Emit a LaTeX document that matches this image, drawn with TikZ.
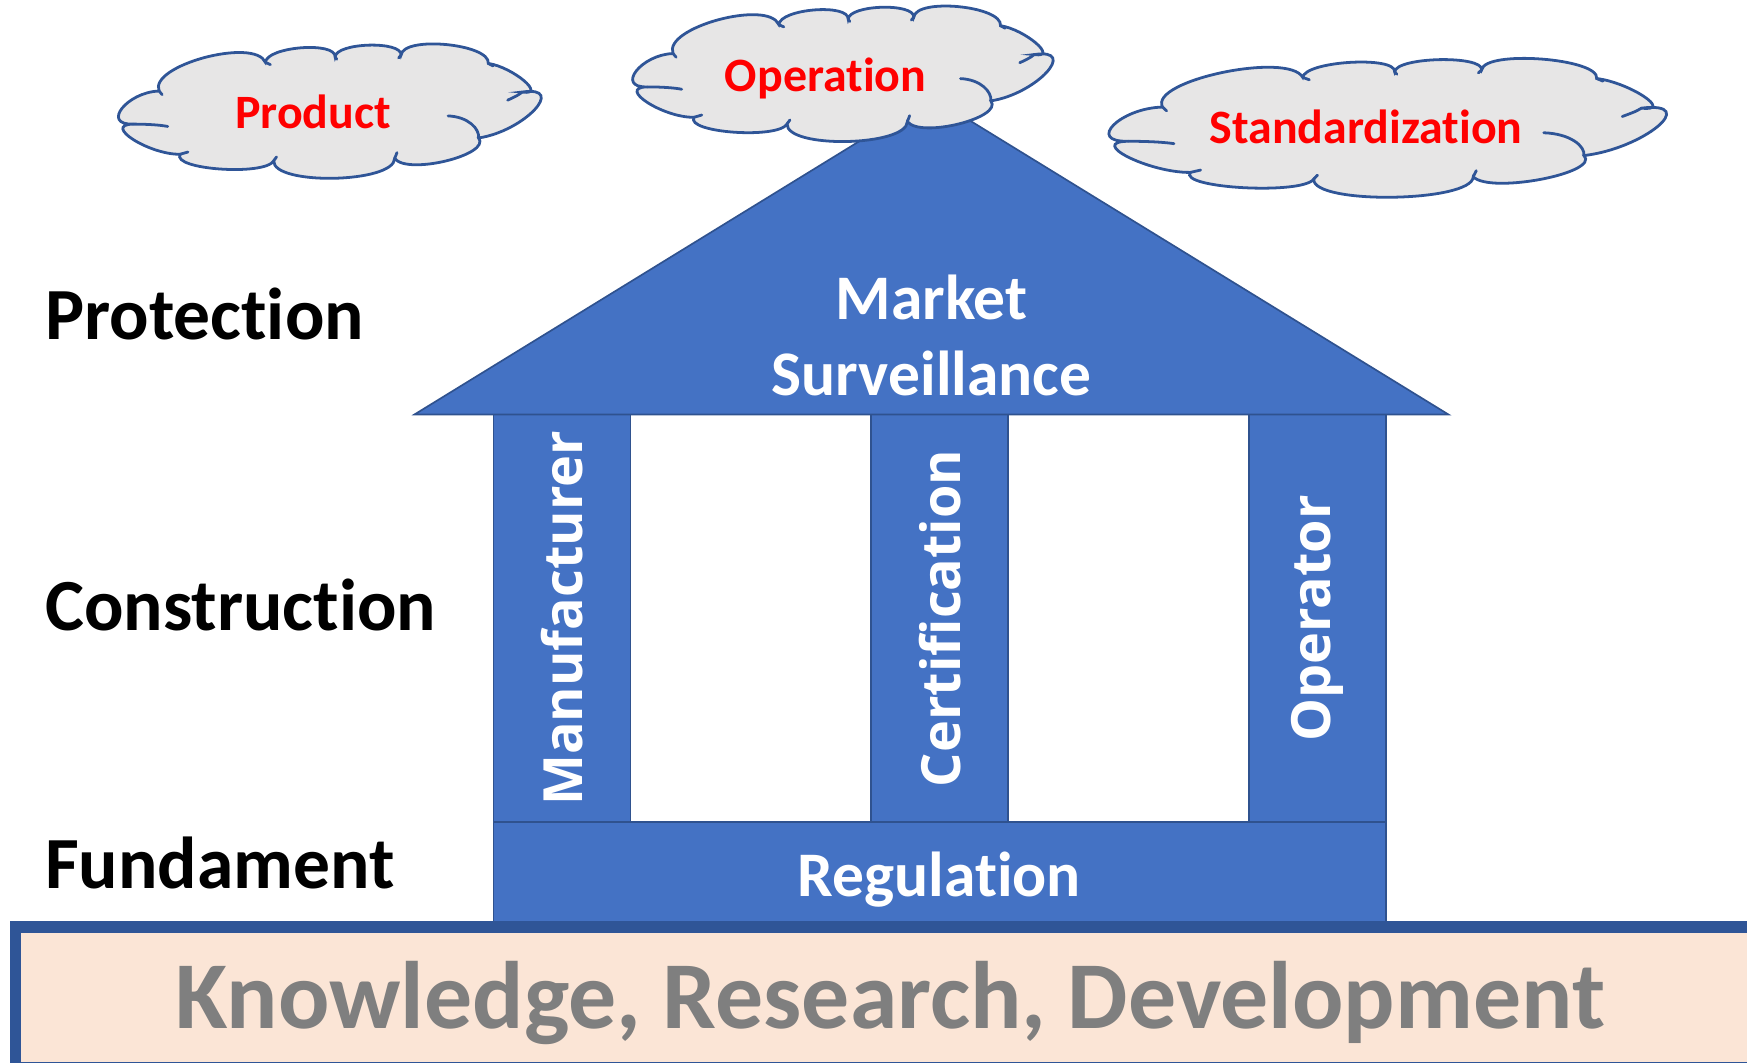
\documentclass[tikz,border=0pt]{standalone}
\usepackage{fontspec}
\setmainfont{Carlito}[Ligatures={NoCommon,NoRare}]
\newfontfamily\pillarfont{Open Sans}
\usetikzlibrary{calc}

\definecolor{houseblue}{HTML}{4472C4}
\definecolor{edgeblue}{HTML}{2F528F}
\definecolor{frameblue}{HTML}{2F5597}
\definecolor{cloudgray}{HTML}{E7E6E6}
\definecolor{basepeach}{HTML}{FBE5D6}
\definecolor{textgray}{HTML}{7F7F7F}

% cloud outline in unit coordinates (half width 1, half height 1)
\newcommand{\cloudoutline}{
  (-0.946,0.19) .. controls (-1.102,0.205) and (-0.976,-0.290) .. (-0.820,-0.305)
  .. controls (-0.872,-0.686) and (-0.356,-1.114) .. (-0.304,-0.733)
  .. controls (-0.299,-0.970) and (0.039,-1.052) .. (0.034,-0.815)
  .. controls (0.039,-1.031) and (0.359,-1.060) .. (0.354,-0.844)
  .. controls (0.365,-1.136) and (0.788,-1.010) .. (0.777,-0.718)
  .. controls (0.897,-0.662) and (1.062,-0.234) .. (0.942,-0.290)
  .. controls (1.161,-0.389) and (0.949,0.298) .. (0.730,0.397)
  .. controls (0.793,0.648) and (0.386,0.956) .. (0.323,0.705)
  .. controls (0.318,1.076) and (-0.269,1.110) .. (-0.264,0.739)
  .. controls (-0.307,0.968) and (-0.761,0.870) .. (-0.718,0.641)
  .. controls (-0.870,0.647) and (-1.098,0.196) .. (-0.946,0.19) -- cycle}
% the short inner arcs of the puffs
\newcommand{\cloudstrokes}{
  (-0.946,0.19) .. controls (-0.87,0.19) and (-0.81,0.205) .. (-0.778,0.225)
  (-0.820,-0.305) -- (-0.805,-0.25)
  (-0.304,-0.733) -- (-0.28,-0.70)
  (0.034,-0.815) -- (0.042,-0.78)
  (0.354,-0.844) -- (0.342,-0.80)
  (0.777,-0.718) -- (0.80,-0.68)
  (0.942,-0.290) .. controls (0.92,-0.24) .. (0.871,-0.168)
  (0.582,0.067) .. controls (0.68,0.08) and (0.735,0.26) .. (0.730,0.397)
  (0.323,0.705) -- (0.334,0.616)
  (-0.264,0.739) -- (-0.25,0.68)
  (-0.718,0.641) -- (-0.68,0.607)}
% #1,#2 centre, #3,#4 half width and half height
\newcommand{\drawcloud}[4]{
  \begin{scope}[shift={(#1,#2)}, xscale=#3, yscale=#4]
    \filldraw[cloudline] \cloudoutline;
    \draw[cloudline, line cap=round] \cloudstrokes;
  \end{scope}}

\tikzset{
  housepart/.style={fill=houseblue, draw=edgeblue, line width=1.5pt},
  pillar/.style={housepart, rotate=90, minimum width=366pt, minimum height=123pt,
    inner sep=0pt, text=white, font=\pillarfont\bfseries\fontsize{48.5}{54}\selectfont},
  cloudline/.style={fill=cloudgray, draw=frameblue, line width=2.5pt},
  cloudtext/.style={text=red, font=\bfseries\fontsize{43}{50}\selectfont, anchor=base},
  layertext/.style={font=\bfseries\fontsize{66}{70}\selectfont, anchor=base west},
  housetext/.style={text=white, font=\bfseries\fontsize{57}{62}\selectfont, anchor=base}
}

\begin{document}
\begin{tikzpicture}[x=1pt, y=-1pt]
  \useasboundingbox (0,0) rectangle (1568,954);

  % pillars
  \node[pillar] (manu) at (504.5,555) {Manufacturer};
  \node[pillar] (cert) at (843.5,555) {Certification};
  \node[pillar] (oper) at (1182.5,555) {Operator};

  % foundation and roof
  \draw[housepart] (443,738) rectangle (1244,834);
  \node[housetext] (regul) at (843,805) {Regulation};
  \draw[housepart, line join=miter] (372,372) -- (836,87) -- (1300,372) -- cycle;
  \node[housetext] (market) at (836,287) {Market};
  \node[housetext] (surv) at (836,355) {Surveillance};

  % ground
  \draw[draw=frameblue, fill=basepeach, line width=10pt] (14,832) rectangle (1610,958);
  \node[anchor=base, text=textgray, font=\bfseries\fontsize{86}{90}\selectfont]
    (ground) at (799,923) {Knowledge, Research, Development};

  % layers
  \node[layertext] (protect) at (37,305) {Protection};
  \node[layertext] (construct) at (37,566) {Construction};
  \node[layertext] (fundam) at (37,797) {Fundament};

  % clouds
  \drawcloud{294.5}{100}{185}{60}
  \node[cloudtext] (prod) at (281,115) {Product};
  \drawcloud{755}{66.5}{184}{60.5}
  \node[cloudtext] (operat) at (741,82) {Operation};
  \drawcloud{1243.5}{115}{244}{62}
  \node[cloudtext] (stand) at (1226,129) {Standardization};
\end{tikzpicture}
\end{document}
